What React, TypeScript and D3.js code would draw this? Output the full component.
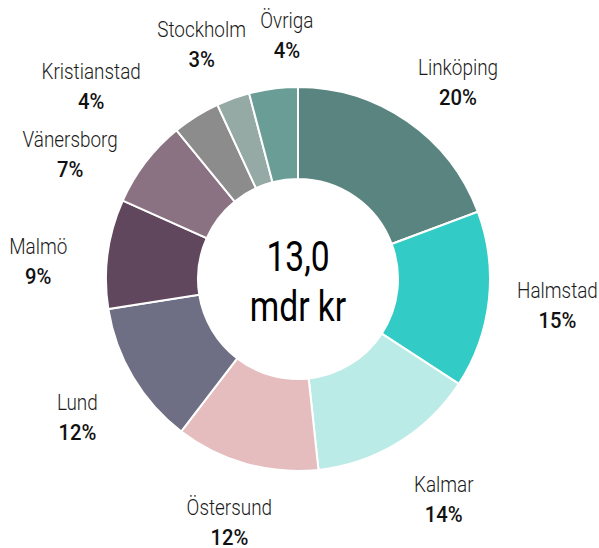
import React from 'react';
import * as d3 from 'd3';

// Regional shares (label shows rounded percent)
const cities = ['Linköping', 'Halmstad', 'Kalmar', 'Östersund', 'Lund', 'Malmö', 'Vänersborg', 'Kristianstad', 'Stockholm', 'Övriga'];
const shares = [19.3, 14.9, 14.1, 12.1, 12.1, 9.2, 7.4, 4.0, 2.8, 4.1];
const pctLabels = ['20%', '15%', '14%', '12%', '12%', '9%', '7%', '4%', '3%', '4%'];
const colors = ['#5a847f', '#33cbc5', '#bbebe6', '#e6bdbe', '#6e6e84', '#61475e', '#8a7282', '#8c8c8c', '#95a9a5', '#6a9d96'];
const centerLines = ['13,0', 'mdr kr'];

// label nudges so the small slices don't collide (dx, dy)
const labelNudge: [number, number][] = [
  [13, 17], [3, 0], [11, 2], [1, -3], [1, 8], [-4, 18], [-23, 34], [-70, 28], [-9, 10], [22, 14],
];

const width = 599;
const height = 548;
const cx = 298;
const cy = 279;
const outerR = 192;
const innerR = 100;
const labelR = 258;
const font = 'Roboto, "DejaVu Sans Condensed", sans-serif';

// fake a condensed face by squeezing horizontally
const squeeze = (x: number, y: number, s: number) => `translate(${x},${y}) scale(${s},1)`;

export default function App() {
  const data = cities.map((c, i) => ({ city: c, value: shares[i], pct: pctLabels[i], color: colors[i] }));
  const pie = d3.pie<typeof data[number]>().value(d => d.value).sort(null);
  const arcs = pie(data);
  const arc = d3.arc<d3.PieArcDatum<typeof data[number]>>().innerRadius(innerR).outerRadius(outerR);
  const labelArc = d3.arc<d3.PieArcDatum<typeof data[number]>>().innerRadius(labelR).outerRadius(labelR);

  return (
    <svg width={width} height={height} style={{ position: 'absolute', left: 0, top: 0, background: '#fff' }}>
      <g transform={`translate(${cx},${cy})`}>
        {arcs.map((a, i) => (
          <path key={i} d={arc(a) || ''} fill={a.data.color} stroke="#fff" strokeWidth={2} />
        ))}
        {arcs.map((a, i) => {
          const [x0, y0] = labelArc.centroid(a);
          const x = x0 + labelNudge[i][0];
          const y = y0 + labelNudge[i][1];
          return (
            <g key={'l' + i} fontFamily={font} textAnchor="middle">
              <text transform={squeeze(x, y - 9, 0.86)} fontSize={22} fontWeight={300} fill="#1a1a1a">{a.data.city}</text>
              <text transform={squeeze(x, y + 21, 0.92)} fontSize={22} fontWeight={500} fill="#111">{a.data.pct}</text>
            </g>
          );
        })}
        <g fontFamily={font} fontSize={42} fontWeight={400} fill="#000" textAnchor="middle">
          <text transform={squeeze(0, -8, 0.8)}>{centerLines[0]}</text>
          <text transform={squeeze(0, 42, 0.8)}>{centerLines[1]}</text>
        </g>
      </g>
    </svg>
  );
}
